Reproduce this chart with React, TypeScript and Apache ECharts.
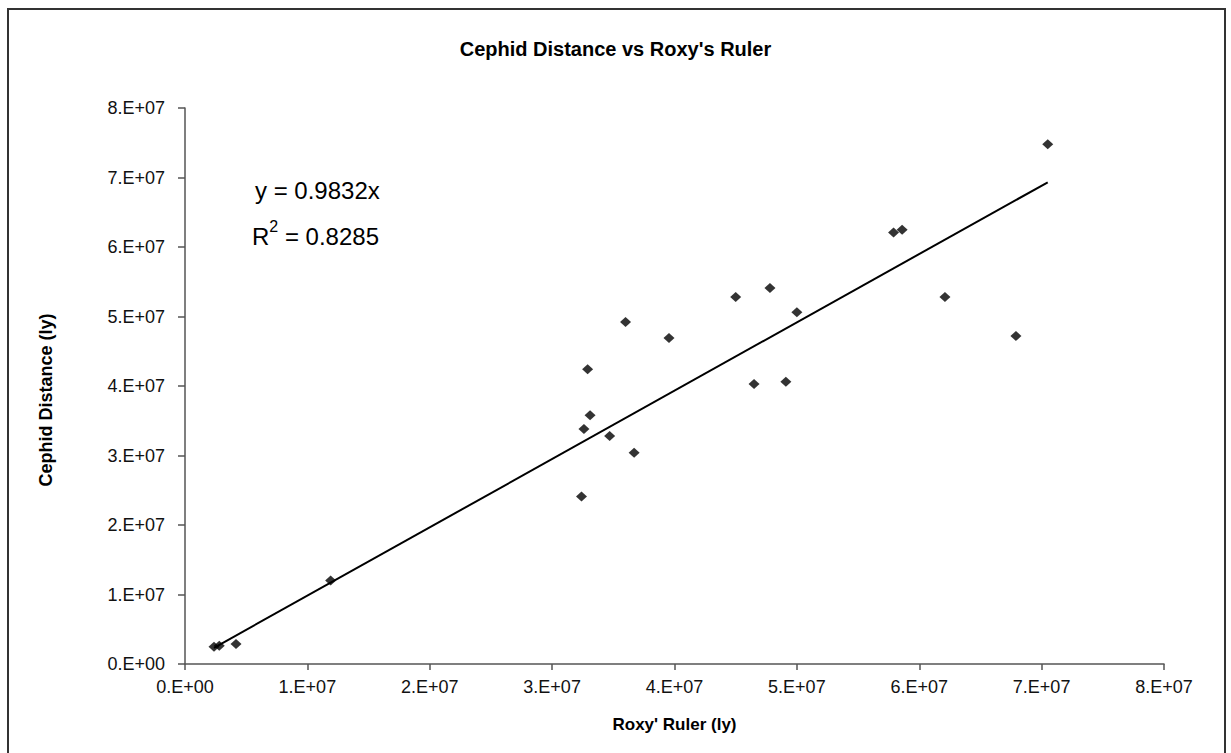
import React, { useEffect, useRef } from "react";
import * as echarts from "echarts";

const roxyRuler = [
  0.237e7, 0.28e7, 0.417e7, 1.19e7, 3.24e7, 3.26e7, 3.29e7, 3.31e7, 3.47e7, 3.6e7, 3.67e7,
  3.955e7, 4.5e7, 4.65e7, 4.78e7, 4.91e7, 5.0e7, 5.79e7, 5.86e7, 6.21e7, 6.79e7, 7.05e7,
];
const cephidDistance = [
  0.249e7, 0.263e7, 0.288e7, 1.2e7, 2.41e7, 3.38e7, 4.24e7, 3.58e7, 3.28e7, 4.92e7, 3.04e7,
  4.69e7, 5.28e7, 4.03e7, 5.41e7, 4.06e7, 5.06e7, 6.21e7, 6.25e7, 5.28e7, 4.72e7, 7.48e7,
];
const trendSlope = 0.9832;
const rSquared = 0.8285;
const titleText = "Cephid Distance vs Roxy's Ruler";
const xAxisName = "Roxy' Ruler (ly)";
const yAxisName = "Cephid Distance (ly)";

const fmt = (v: number) => {
  if (v === 0) return "0.E+00";
  const exp = Math.floor(Math.log10(v));
  const mant = Math.round(v / Math.pow(10, exp));
  return `${mant}.E+${String(exp).padStart(2, "0")}`;
};

export default function App() {
  const ref = useRef<HTMLDivElement>(null);
  useEffect(() => {
    if (!ref.current) return;
    const chart = echarts.init(ref.current, undefined, { renderer: "svg" });
    const xmin = Math.min(...roxyRuler);
    const xmax = Math.max(...roxyRuler);
    const font = "'Liberation Sans', Arial, sans-serif";
    const points = roxyRuler.map((x, i) => [x, cephidDistance[i]]);
    chart.setOption({
      animation: false,
      backgroundColor: "#fff",
      title: {
        text: titleText,
        left: "center",
        top: 34,
        textStyle: { fontFamily: font, fontSize: 20, fontWeight: "bold", color: "#000" },
      },
      grid: {
        left: 185,
        right: 67,
        top: 108,
        bottom: 89,
        containLabel: false,
        outerBoundsMode: "none",
      },
      xAxis: {
        type: "value",
        min: 0,
        max: 8e7,
        interval: 1e7,
        name: xAxisName,
        nameLocation: "middle",
        nameGap: 52,
        nameTextStyle: { fontFamily: font, fontSize: 17, fontWeight: "bold", color: "#000" },
        splitLine: { show: false },
        axisLine: { show: true, onZero: false, lineStyle: { color: "#555", width: 1.5 } },
        axisTick: { show: true, length: 6, lineStyle: { color: "#555", width: 1.5 } },
        axisLabel: { fontFamily: font, fontSize: 18, color: "#111", margin: 14, formatter: fmt },
      },
      yAxis: {
        type: "value",
        min: 0,
        max: 8e7,
        interval: 1e7,
        splitLine: { show: false },
        axisLine: { show: true, onZero: false, lineStyle: { color: "#555", width: 1.5 } },
        axisTick: { show: true, length: 7, lineStyle: { color: "#555", width: 1.5 } },
        axisLabel: { fontFamily: font, fontSize: 18, color: "#111", margin: 20, formatter: fmt },
      },
      graphic: [
        {
          type: "rect",
          shape: { x: 8, y: 9, width: 1217, height: 760 },
          style: { fill: "none", stroke: "#333", lineWidth: 2 },
          silent: true,
        },
        {
          type: "text",
          x: 46,
          y: 400,
          rotation: Math.PI / 2,
          style: {
            text: yAxisName,
            font: `bold 18px ${font}`,
            fill: "#000",
            align: "center",
            verticalAlign: "middle",
          },
        },
        {
          type: "text",
          left: 255,
          top: 178,
          style: {
            text: `y = ${trendSlope}x`,
            font: `24px ${font}`,
            fill: "#000",
          },
        },
        {
          type: "text",
          left: 252,
          top: 218,
          style: {
            text: `{b|R}{s|2}{b| = ${rSquared}}`,
            fill: "#000",
            rich: {
              b: { fontFamily: font, fontSize: 24, verticalAlign: "bottom", lineHeight: 30 },
              s: { fontFamily: font, fontSize: 16, verticalAlign: "top", lineHeight: 30, padding: [0, 0, 14, 0] },
            },
          },
        },
      ],
      series: [
        {
          type: "line",
          data: [
            [xmin, trendSlope * xmin],
            [xmax, trendSlope * xmax],
          ],
          showSymbol: false,
          symbol: "none",
          lineStyle: { color: "#000", width: 2 },
          z: 2,
        },
        {
          type: "scatter",
          data: points,
          symbol: "diamond",
          symbolSize: [11, 10],
          itemStyle: { color: "#000" },
          z: 3,
        },
      ],
    });
    return () => chart.dispose();
  }, []);
  return (
    <div
      ref={ref}
      style={{ position: "fixed", left: 0, top: 0, width: 1231, height: 753 }}
    />
  );
}
